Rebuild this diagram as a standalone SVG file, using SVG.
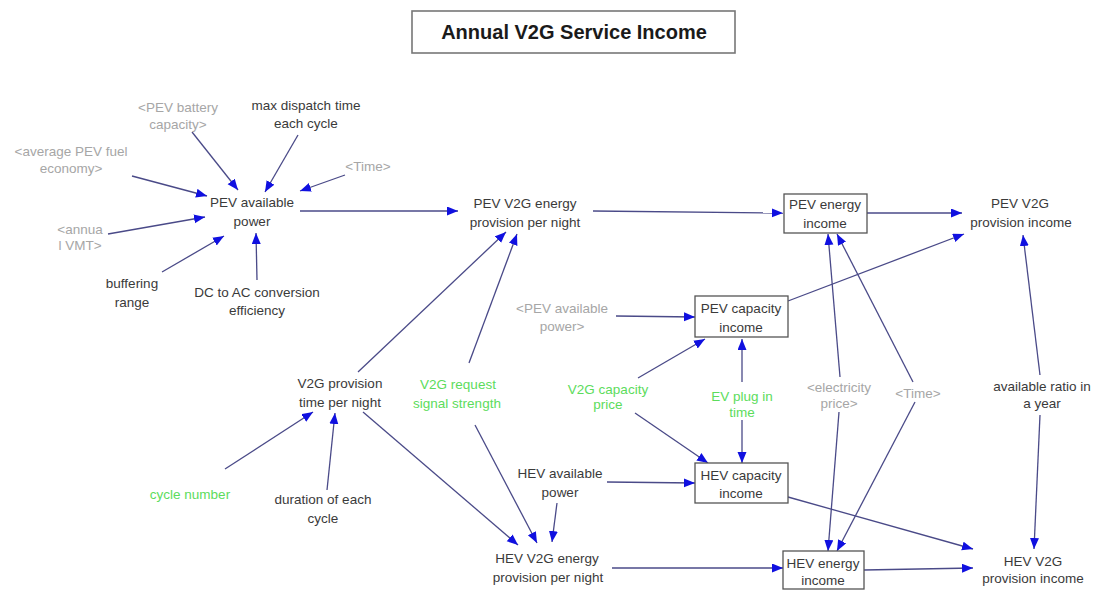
<svg xmlns="http://www.w3.org/2000/svg" width="1100" height="590" viewBox="0 0 1100 590">
<style>
text{font-family:"Liberation Sans",Arial,sans-serif;font-size:13.5px;text-anchor:middle;fill:#3a3a3a}
.g{fill:#a6a6a6}
.gr{fill:#5cdc5c}
.title{font-size:20px;font-weight:bold;fill:#1a1a1a}
.box{fill:#fff;stroke:#555;stroke-width:1.3}
#connectors line{stroke:#4a4a88;stroke-width:1.3;marker-end:url(#ah)}
</style>
<defs>
<marker id="ah" markerUnits="userSpaceOnUse" markerWidth="12" markerHeight="10" refX="11" refY="4.5" orient="auto">
<path d="M0,0 L11,4.5 L0,9 z" fill="#1010e0"/>
</marker>
</defs>
<rect width="1100" height="590" fill="#fff"/>
<g id="title">
<rect x="412" y="11" width="323" height="42" fill="#fff" stroke="#777" stroke-width="1.6"/>
<text class="title" x="574" y="39">Annual V2G Service Income</text>
</g>
<g id="connectors">
<line x1="192" y1="132" x2="238" y2="190"/>
<line x1="298" y1="135" x2="265" y2="192"/>
<line x1="132" y1="176" x2="207" y2="196"/>
<line x1="345" y1="175" x2="300" y2="191"/>
<line x1="108" y1="234" x2="205" y2="217"/>
<line x1="162" y1="272" x2="224" y2="236"/>
<line x1="257" y1="280" x2="256" y2="233"/>
<line x1="300" y1="211" x2="458" y2="211"/>
<line x1="593" y1="211" x2="783" y2="213"/>
<line x1="867" y1="213" x2="962" y2="213"/>
<line x1="358" y1="372" x2="506" y2="232"/>
<line x1="469" y1="363" x2="517" y2="234"/>
<line x1="616" y1="316" x2="695" y2="317"/>
<line x1="638" y1="378" x2="705" y2="339"/>
<line x1="742" y1="382" x2="742" y2="339"/>
<line x1="742" y1="420" x2="742" y2="463"/>
<line x1="635" y1="413" x2="708" y2="463"/>
<line x1="788" y1="301" x2="964" y2="234"/>
<line x1="840" y1="377" x2="828" y2="234"/>
<line x1="913" y1="382" x2="837" y2="234"/>
<line x1="839" y1="412" x2="828" y2="551"/>
<line x1="915" y1="402" x2="837" y2="551"/>
<line x1="1040" y1="375" x2="1023" y2="235"/>
<line x1="1040" y1="415" x2="1034" y2="549"/>
<line x1="225" y1="469" x2="313" y2="412"/>
<line x1="327" y1="490" x2="335" y2="413"/>
<line x1="363" y1="412" x2="518" y2="545"/>
<line x1="475" y1="425" x2="537" y2="543"/>
<line x1="557" y1="503" x2="552" y2="542"/>
<line x1="607" y1="482" x2="695" y2="483"/>
<line x1="788" y1="497" x2="973" y2="549"/>
<line x1="612" y1="568" x2="783" y2="568"/>
<line x1="864" y1="570" x2="973" y2="568"/>
</g>
<g id="pev_battery_capacity"><text class="g" x="178" y="112">&lt;PEV battery</text><text class="g" x="178" y="129">capacity&gt;</text></g>
<g id="max_dispatch_time"><text x="306" y="110">max dispatch time</text><text x="306" y="128">each cycle</text></g>
<g id="average_pev_fuel_economy"><text class="g" x="71" y="156">&lt;average PEV fuel</text><text class="g" x="71" y="173">economy&gt;</text></g>
<g id="time1"><text class="g" x="368" y="171">&lt;Time&gt;</text></g>
<g id="pev_available_power"><text x="252" y="207">PEV available</text><text x="252" y="226">power</text></g>
<g id="annual_vmt"><text class="g" x="80" y="234">&lt;annua</text><text class="g" x="80" y="250">l VMT&gt;</text></g>
<g id="buffering_range"><text x="132" y="288">buffering</text><text x="132" y="307">range</text></g>
<g id="dc_ac"><text x="257" y="297">DC to AC conversion</text><text x="257" y="315">efficiency</text></g>
<g id="pev_v2g_energy"><text x="525" y="208">PEV V2G energy</text><text x="525" y="227">provision per night</text></g>
<g id="pev_energy_income"><rect class="box" x="784" y="194" width="83" height="39"/><text x="825" y="209">PEV energy</text><text x="825" y="228">income</text></g>
<g id="pev_v2g_provision_income"><text x="1020" y="208">PEV V2G</text><text x="1021" y="227">provision income</text></g>
<g id="pev_available_power_shadow"><text class="g" x="562" y="313">&lt;PEV available</text><text class="g" x="562" y="331">power&gt;</text></g>
<g id="pev_capacity_income"><rect class="box" x="695" y="296" width="93" height="41"/><text x="741" y="313">PEV capacity</text><text x="741" y="332">income</text></g>
<g id="v2g_provision_time"><text x="340" y="388">V2G provision</text><text x="340" y="407">time per night</text></g>
<g id="v2g_request_signal"><text class="gr" x="458" y="389">V2G request</text><text class="gr" x="457" y="408">signal strength</text></g>
<g id="v2g_capacity_price"><text class="gr" x="608" y="394">V2G capacity</text><text class="gr" x="608" y="409">price</text></g>
<g id="ev_plug_in_time"><text class="gr" x="742" y="401">EV plug in</text><text class="gr" x="742" y="417">time</text></g>
<g id="electricity_price"><text class="g" x="839" y="392">&lt;electricity</text><text class="g" x="839" y="408">price&gt;</text></g>
<g id="time2"><text class="g" x="918" y="398">&lt;Time&gt;</text></g>
<g id="available_ratio"><text x="1042" y="391">available ratio in</text><text x="1042" y="408">a year</text></g>
<g id="cycle_number"><text class="gr" x="190" y="499">cycle number</text></g>
<g id="duration_each_cycle"><text x="323" y="504">duration of each</text><text x="323" y="523">cycle</text></g>
<g id="hev_available_power"><text x="560" y="478">HEV available</text><text x="560" y="497">power</text></g>
<g id="hev_capacity_income"><rect class="box" x="695" y="463" width="93" height="40"/><text x="741" y="480">HEV capacity</text><text x="741" y="498">income</text></g>
<g id="hev_v2g_energy"><text x="547" y="563">HEV V2G energy</text><text x="548" y="582">provision per night</text></g>
<g id="hev_energy_income"><rect class="box" x="783" y="551" width="81" height="38"/><text x="823" y="568">HEV energy</text><text x="823" y="585">income</text></g>
<g id="hev_v2g_provision_income"><text x="1033" y="566">HEV V2G</text><text x="1033" y="583">provision income</text></g>
</svg>
